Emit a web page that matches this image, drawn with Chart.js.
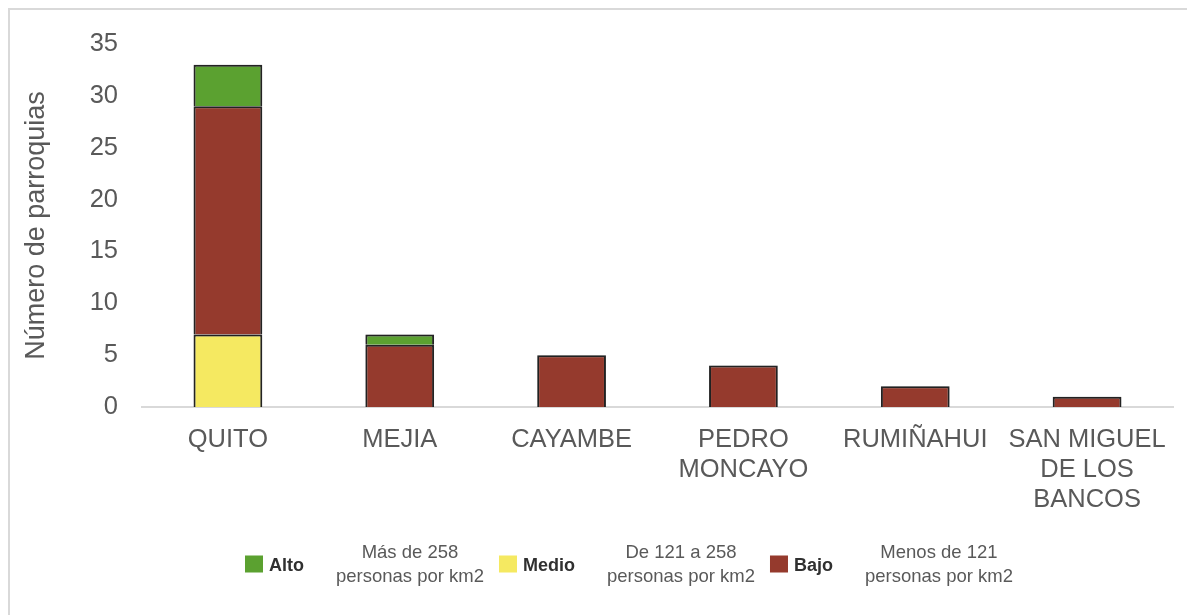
<!DOCTYPE html>
<html>
<head>
<meta charset="utf-8">
<script src="https://cdn.jsdelivr.net/npm/chart.js@4.4.1/dist/chart.umd.min.js"></script>
<style>
  html, body { margin: 0; padding: 0; background: #ffffff; }
  #wrap { position: relative; width: 1187px; height: 615px; overflow: hidden; }
  #frame {
    position: absolute; left: 8px; top: 8px; right: -4px; bottom: -4px;
    border-top: 2px solid #d9d9d9; border-left: 2px solid #d9d9d9;
  }
  #c { position: absolute; left: 0; top: 0; }
</style>
</head>
<body>
<div id="wrap">
  <div id="frame"></div>
  <canvas id="c" width="1187" height="615"></canvas>
</div>
<script>
// Cantones de la provincia
const categories = ['QUITO', 'MEJIA', 'CAYAMBE', ['PEDRO', 'MONCAYO'], 'RUMIÑAHUI', ['SAN MIGUEL', 'DE LOS', 'BANCOS']];

// Número de parroquias por nivel de densidad poblacional
const medio = [7, null, null, null, null, null];
const bajo  = [22, 6, 5, 4, 2, 1];
const alto  = [4, 1, null, null, null, null];

// Rangos de densidad que acompañan cada nivel en la leyenda
const levelNames = ['Alto', 'Medio', 'Bajo'];
const levelNotes = [
  ['Más de 258', 'personas por km2'],
  ['De 121 a 258', 'personas por km2'],
  ['Menos de 121', 'personas por km2']
];

const yTicks = { min: 0, max: 35, step: 5 };
const yTitle = 'Número de parroquias';

const colors = { Alto: '#5ba130', Medio: '#f5e961', Bajo: '#953a2d' };

const FONT = "'Liberation Sans', Arial, sans-serif";

// soft drop shadow behind the bars
const barShadow = {
  id: 'barShadow',
  beforeDatasetsDraw(chart) {
    const ctx = chart.ctx;
    ctx.save();
    ctx.shadowColor = 'rgba(0,0,0,0.28)';
    ctx.shadowBlur = 5;
    ctx.shadowOffsetX = 0;
    ctx.shadowOffsetY = 0;
  },
  afterDatasetsDraw(chart) {
    chart.ctx.restore();
  }
};

// legend: swatch, bold level name, and a two-line range note
const rangeLegend = {
  id: 'rangeLegend',
  afterDraw(chart) {
    const ctx = chart.ctx;
    const area = chart.chartArea;
    let x = area.left + 103;
    const cy = 564;
    ctx.save();
    levelNames.forEach((name, i) => {
      ctx.fillStyle = colors[name];
      ctx.fillRect(x, cy - 8.5, 18, 17);
      ctx.font = 'bold 18px ' + FONT;
      ctx.fillStyle = '#303030';
      ctx.textBaseline = 'alphabetic';
      ctx.textAlign = 'left';
      const lx = x + 24;
      ctx.fillText(name, lx, cy + 7);
      const lw = ctx.measureText(name).width;
      const center = lx + lw + 106;
      ctx.font = '18.5px ' + FONT;
      ctx.fillStyle = '#595959';
      ctx.textAlign = 'center';
      levelNotes[i].forEach((line, j) => {
        ctx.fillText(line, center, cy - 6 + j * 23.5);
      });
      x = center + 89;
    });
    ctx.restore();
  }
};

const ds = (label, data) => ({
  label,
  data,
  backgroundColor: colors[label],
  borderColor: '#262626',
  borderWidth: 2,
  categoryPercentage: 1.0,
  barPercentage: 0.4
});

new Chart(document.getElementById('c'), {
  type: 'bar',
  data: {
    labels: categories,
    datasets: [ds('Medio', medio), ds('Bajo', bajo), ds('Alto', alto)]
  },
  options: {
    responsive: false,
    animation: false,
    devicePixelRatio: 1,
    layout: { padding: { left: 0, right: 14, top: 44, bottom: 0 } },
    plugins: {
      legend: { display: false },
      tooltip: { enabled: false }
    },
    scales: {
      x: {
        stacked: true,
        grid: { display: false },
        border: { display: true, color: '#d9d9d9', width: 2 },
        ticks: {
          color: '#595959',
          font: { family: FONT, size: 25.5, lineHeight: 1.17 },
          padding: 10,
          maxRotation: 0,
          autoSkip: false
        },
        afterFit(scale) { scale.height = 208; }
      },
      y: {
        stacked: true,
        min: yTicks.min,
        max: yTicks.max,
        grid: { display: false },
        border: { display: false },
        ticks: {
          stepSize: yTicks.step,
          color: '#595959',
          font: { family: FONT, size: 25.5 },
          padding: 16
        },
        title: {
          display: true,
          text: yTitle,
          color: '#595959',
          font: { family: FONT, size: 27 },
          padding: { top: 20, bottom: 0 }
        },
        afterFit(scale) { scale.width = 142; }
      }
    }
  },
  plugins: [barShadow, rangeLegend]
});
</script>
</body>
</html>
